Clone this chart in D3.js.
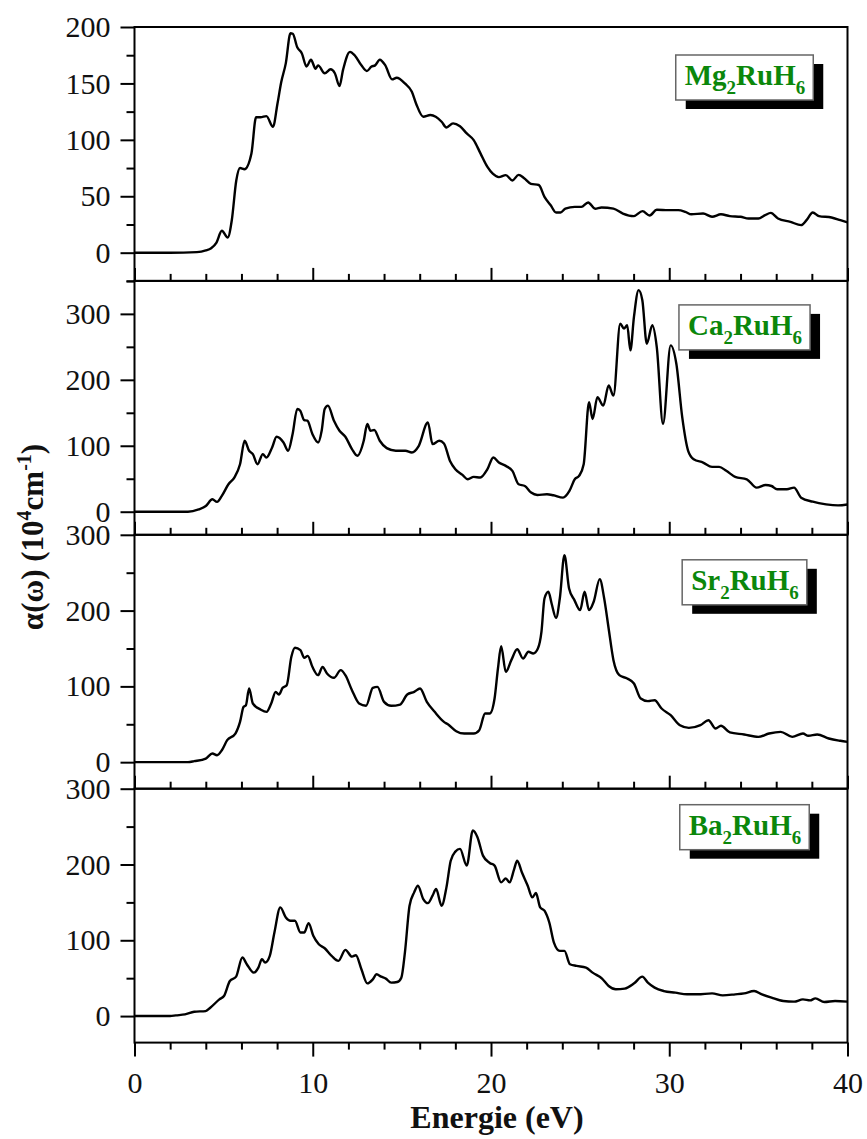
<!DOCTYPE html>
<html>
<head>
<meta charset="utf-8">
<script src="https://cdn.jsdelivr.net/npm/d3@7"></script>
<style>
  body { margin: 0; background: #fff; }
  svg text { font-family: "Liberation Serif", "Times New Roman", serif; }
</style>
</head>
<body>
<script>
// absorption coefficient alpha(omega) in 10^4 cm^-1 vs energy (eV)
const compounds = ['Mg', 'Ca', 'Sr', 'Ba']

const mgData = [[0,0],[2,0],[3.5,0.5],[4,2],[4.3,4],[4.6,9],[4.9,19.4],[5.23,13.5],[5.46,29],[5.71,64],[5.92,75],[6.17,74],[6.56,88],[6.82,120],[7.07,120],[7.4,121],[7.77,111.6],[8.02,132],[8.23,151],[8.49,168],[8.75,194.5],[8.88,194],[9.13,182],[9.39,176.6],[9.65,165],[9.9,171],[10.16,163],[10.3,166],[10.67,159],[11.0,162.5],[11.24,159],[11.5,147.7],[11.7,162],[12.09,178],[12.35,175],[12.73,166],[13.04,161],[13.3,165],[13.5,166],[13.76,171],[14.07,166],[14.45,153.6],[14.71,155],[15.17,150],[15.56,142.6],[15.8,132],[16.2,120.5],[16.6,122],[16.9,120.5],[17.23,116],[17.5,111],[17.87,114.6],[18.26,112],[18.64,105.7],[19.03,99.8],[19.41,88],[19.8,76],[20.1,70],[20.44,67],[20.83,68.7],[21.2,64],[21.55,69],[21.86,66],[22.24,61],[22.68,60],[23.0,49.5],[23.35,42],[23.65,35.6],[23.9,35.6],[24.17,39],[24.7,40.6],[25.07,40.6],[25.45,44.5],[25.84,39],[26.2,40],[26.87,39],[27.4,34.7],[28.0,32.4],[28.5,36.8],[28.9,33],[29.3,38],[29.95,37.7],[30.5,37.7],[30.9,36.2],[31.24,34],[31.9,34.7],[32.4,31.8],[32.9,34],[33.4,32.4],[34.0,31.8],[34.45,30.3],[35.0,30.3],[35.35,33],[35.7,35.3],[36.1,30.3],[36.8,27.3],[37.4,24.4],[37.7,28.8],[38.05,35.6],[38.4,32.4],[39.1,31.2],[39.6,28.8],[40,26.8]]

const caData = [[0,0],[3,0],[3.6,3.5],[4.0,8.6],[4.37,18.8],[4.63,15],[4.9,24],[5.27,41.6],[5.6,51.8],[5.92,72],[6.18,107.6],[6.43,92.4],[6.64,87.3],[6.9,72],[7.2,87.3],[7.4,82],[7.72,97.5],[7.97,113.7],[8.36,105],[8.62,92.4],[8.87,117.8],[9.13,155.8],[9.3,153],[9.52,139],[9.7,138],[9.98,117.8],[10.3,105],[10.5,122.8],[10.67,155.8],[10.85,160.9],[11.19,138],[11.5,122.8],[11.83,113.7],[12.2,95],[12.5,84.8],[12.86,107.6],[13.06,133],[13.24,122.8],[13.45,123.9],[13.76,107.6],[14.15,96.4],[14.66,92.4],[15.2,92.4],[15.56,89.8],[15.95,100],[16.46,135.5],[16.72,102.5],[17.1,107.6],[17.36,103.5],[17.7,77],[18.0,64.5],[18.4,55.8],[18.7,49.2],[19.03,52.8],[19.4,51.8],[19.8,64.5],[20.13,82.2],[20.44,74.6],[20.83,69.5],[21.2,62],[21.55,41.6],[21.9,39],[22.25,29],[22.6,25.4],[23.14,26.4],[23.5,24.9],[24.04,21.3],[24.4,31.5],[24.7,49.2],[24.94,54.3],[25.2,72],[25.5,166],[25.7,140.6],[25.97,173.6],[26.3,160.9],[26.6,191.4],[26.87,176],[27.25,285],[27.46,277.7],[27.64,282.7],[27.82,244.7],[28.02,295.4],[28.28,336],[28.49,320.8],[28.74,254.8],[29.05,282.7],[29.3,249.7],[29.65,133],[30.08,252.3],[30.4,224],[30.73,143],[31.06,92.4],[31.37,79.7],[31.9,74.6],[32.4,68],[32.8,68],[33.2,62],[33.7,52.8],[34.35,49.2],[34.9,36.5],[35.4,40.6],[35.74,39],[36.05,34],[36.6,34],[37.0,36.5],[37.4,21.3],[38.05,15.2],[38.8,11.2],[39.47,9.6],[40,11]]

const srData = [[0,0],[3,0],[3.35,1.3],[4.0,4.8],[4.37,11.4],[4.63,9.2],[4.9,15.8],[5.2,29],[5.66,37.8],[5.92,53.2],[6.12,73],[6.25,75],[6.43,97.2],[6.64,77.4],[7.07,69.5],[7.41,66.4],[7.67,77.4],[7.92,92.8],[8.1,89.3],[8.31,98.1],[8.54,101.6],[8.8,139],[9.0,151],[9.31,147.8],[9.52,137.7],[9.72,140.3],[9.98,125.8],[10.3,114.8],[10.55,125.8],[10.8,117],[11.19,111.3],[11.57,121.4],[11.83,114.8],[12.2,95],[12.6,77.4],[12.99,74.4],[13.37,98.1],[13.63,99.4],[14.0,79.6],[14.4,74.4],[14.9,76],[15.3,89.3],[15.69,92.8],[16.02,97.2],[16.4,79.6],[16.84,66.4],[17.36,53.2],[17.6,49.7],[18.05,40.9],[18.5,37.8],[19.03,37.8],[19.34,42.2],[19.67,64.2],[19.93,64.2],[20.2,84],[20.39,123.6],[20.57,153],[20.83,119.2],[21.14,134.6],[21.47,149],[21.8,136.8],[22.1,145.6],[22.37,143.4],[22.63,150],[22.83,172],[23.0,216],[23.22,224.8],[23.4,209.4],[23.65,190.5],[23.86,216],[24.12,273.2],[24.38,229.2],[24.68,213.8],[25.0,200.6],[25.25,224.8],[25.5,200.6],[25.76,211.6],[26.1,241.5],[26.35,216],[26.6,176.4],[26.87,134.6],[27.2,114.8],[27.64,110.4],[28.02,103.8],[28.4,84],[28.8,80.5],[29.18,81.8],[29.57,70.8],[30.08,62],[30.6,48.8],[31.1,45.3],[31.75,48.8],[32.2,55.4],[32.6,44.4],[32.9,48],[33.4,39.2],[34.2,36.5],[35.0,33.4],[35.6,37.8],[36.25,40],[36.9,33.4],[37.5,37.8],[37.8,34.8],[38.3,36.5],[38.95,31.2],[39.6,28.2],[40,26.8]]

const baData = [[0,0],[2,0],[2.32,0.9],[2.83,2.2],[3.35,5.7],[3.99,6.6],[4.25,11],[4.76,22],[5.02,26.5],[5.35,46.3],[5.7,52],[6.05,77.2],[6.3,68.4],[6.69,57.3],[6.95,64],[7.15,75],[7.33,70.6],[7.59,79.4],[7.85,110.3],[8.18,143.4],[8.49,130.1],[8.75,125.7],[9.0,125.7],[9.31,110.3],[9.52,110.3],[9.77,122.6],[10.03,105.9],[10.34,94.8],[10.67,89.5],[11.06,79.4],[11.44,72.8],[11.83,87.3],[12.2,78.5],[12.42,80.3],[12.73,61.8],[13.06,43.2],[13.37,48.5],[13.58,55.1],[13.84,52],[14.1,49.4],[14.4,44.1],[14.74,45],[14.97,50.7],[15.17,83.8],[15.43,145.6],[15.69,163.2],[15.9,172],[16.2,154.4],[16.46,149],[16.72,158.8],[16.92,167.6],[17.23,145.6],[17.5,169.8],[17.74,205],[18.0,217],[18.26,220.6],[18.64,198.5],[18.98,244.8],[19.24,236],[19.55,211.7],[19.93,202],[20.2,198.5],[20.57,176.4],[20.83,181.7],[21.04,176.4],[21.3,194],[21.47,205],[21.73,189.7],[22.06,172],[22.32,156.6],[22.52,162.3],[22.76,143.4],[23.0,139],[23.27,123.5],[23.53,97],[23.86,86],[24.12,86],[24.43,68.4],[24.8,66.2],[25.33,64],[25.7,57.3],[26.23,49.4],[26.6,39.7],[27.0,35.3],[27.5,36.2],[28.03,43.2],[28.49,52],[28.8,44.1],[29.18,37.5],[29.7,33],[30.34,30.9],[31.0,28.7],[31.6,28.7],[32.4,30],[33.0,27.3],[33.7,28.7],[34.2,30],[34.76,33],[35.2,28.7],[35.74,24.3],[36.4,19.8],[37.0,19],[37.5,22],[37.9,20.7],[38.2,23.4],[38.7,18.5],[39.3,19.8],[40,19]]

const series = [mgData, caData, srData, baData]

// y domains and ticks per panel
const yDomains = [[-25, 200], [-35, 350], [-35, 300], [-35, 300]]
const yMajor = [[0, 50, 100, 150, 200], [0, 100, 200, 300], [0, 100, 200, 300], [0, 100, 200, 300]]
const yMinor = [[-25, 25, 75, 125, 175], [50, 150, 250, 350], [50, 150, 250], [50, 150, 250]]
const xMajor = [0, 10, 20, 30, 40]
const xMinor = [2, 4, 6, 8, 12, 14, 16, 18, 22, 24, 26, 28, 32, 34, 36, 38]

const width = 867
const height = 1139
const plotL = 134.5, plotR = 847.5
const plotT = 27
const panelH = 253.9
const labelTop = [28, 24, 25, 16]   // box offset from panel top
const green = '#0b870b'

const svg = d3.select('body')
    .append('svg')
    .attr('width', width)
    .attr('height', height)

const xScale = d3.scaleLinear()
    .domain([0, 40])
    .range([plotL, plotR])

series.forEach((data, i) => {
    const y0 = plotT + i * panelH
    const y1 = y0 + panelH
    const last = i === series.length - 1

    const yScale = d3.scaleLinear()
        .domain(yDomains[i])
        .range([y1, y0])

    const line = d3.line()
        .curve(d3.curveMonotoneX)
        .x(d => xScale(d[0]))
        .y(d => yScale(d[1]))

    const g = svg.append('g')

    // curve
    g.append('path')
        .datum(data)
        .attr('fill', 'none')
        .attr('stroke', '#000')
        .attr('stroke-width', 2.4)
        .attr('stroke-linejoin', 'round')
        .attr('d', line)

    // y axis: major ticks with labels, minor without
    const yAx = g.append('g')
        .attr('transform', `translate(${plotL},0)`)
        .call(d3.axisLeft(yScale).tickValues(yMajor[i]).tickSize(14).tickPadding(10))
    const yMin = g.append('g')
        .attr('transform', `translate(${plotL},0)`)
        .call(d3.axisLeft(yScale).tickValues(yMinor[i]).tickSize(8).tickFormat(''))

    // x axis: inward on stacked panels, outward on the bottom one
    const dir = last ? 1 : -1
    const xAx = g.append('g')
        .attr('transform', `translate(0,${y1})`)
        .call(d3.axisBottom(xScale).tickValues(xMajor).tickSize(dir * 14).tickPadding(8)
            .tickFormat(last ? d3.format('d') : ''))
    const xMin = g.append('g')
        .attr('transform', `translate(0,${y1})`)
        .call(d3.axisBottom(xScale).tickValues(xMinor).tickSize(dir * 7).tickFormat(''))
    if (!last) xAx.selectAll('.tick line').attr('y2', -13)

    ;[yAx, yMin, xAx, xMin].forEach(a => {
        a.select('.domain').remove()
        a.selectAll('.tick line').attr('stroke-width', 2)
        a.selectAll('text')
            .attr('font-size', 30)
            .attr('fill', '#111')
            .style('font-family', '"Liberation Serif", "Times New Roman", serif')
    })
    if (last) xAx.selectAll('text').attr('dy', '0.95em')

    // frame
    g.append('rect')
        .attr('x', plotL)
        .attr('y', y0)
        .attr('width', plotR - plotL)
        .attr('height', panelH)
        .attr('fill', 'none')
        .attr('stroke', '#000')
        .attr('stroke-width', 2)

    // compound label with shadow box
    const lab = g.append('g')
    const bt = y0 + labelTop[i]
    const txt = lab.append('text')
        .attr('x', 745)
        .attr('y', bt + 30)
        .attr('text-anchor', 'middle')
        .attr('font-weight', 'bold')
        .attr('font-size', 29)
        .attr('fill', green)
    txt.append('tspan').text(compounds[i])
    txt.append('tspan').attr('font-size', 19).attr('dy', 9).text('2')
    txt.append('tspan').attr('dy', -9).text('RuH')
    txt.append('tspan').attr('font-size', 19).attr('dy', 9).text('6')

    const bb = txt.node().getBBox()
    const bx = bb.x - 9, bw = bb.width + 17
    lab.insert('rect', 'text')
        .attr('x', bx + 10).attr('y', bt + 9)
        .attr('width', bw).attr('height', 45)
        .attr('fill', '#000')
    lab.insert('rect', 'text')
        .attr('x', bx).attr('y', bt)
        .attr('width', bw).attr('height', 45)
        .attr('fill', '#fff')
        .attr('stroke', '#666')
        .attr('stroke-width', 1.5)
})

// axis titles
svg.append('text')
    .attr('x', 497)
    .attr('y', 1128)
    .attr('text-anchor', 'middle')
    .attr('font-weight', 'bold')
    .attr('font-size', 32)
    .attr('fill', '#111')
    .text('Energie (eV)')

const yt = svg.append('text')
    .attr('transform', 'translate(43,537) rotate(-90)')
    .attr('text-anchor', 'middle')
    .attr('font-weight', 'bold')
    .attr('font-size', 31)
    .attr('fill', '#111')
yt.append('tspan').text('α(ω) (10')
yt.append('tspan').attr('font-size', 20).attr('dy', -12).text('4')
yt.append('tspan').attr('dy', 12).text('cm')
yt.append('tspan').attr('font-size', 20).attr('dy', -12).text('-1')
yt.append('tspan').attr('dy', 12).text(')')
</script>
</body>
</html>
